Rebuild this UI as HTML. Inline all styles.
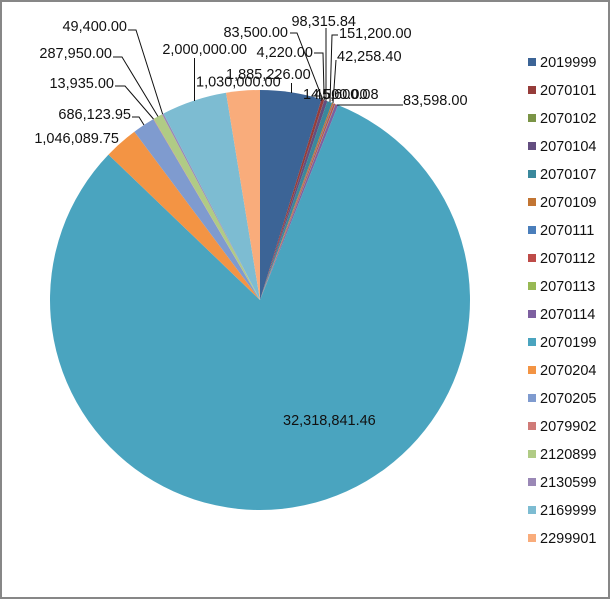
<!DOCTYPE html>
<html>
<head>
<meta charset="utf-8">
<style>
html,body{margin:0;padding:0;background:#fff;}
svg{display:block;}
text{font-family:"Liberation Sans",Arial,sans-serif;font-size:14.5px;fill:#111;}
</style>
</head>
<body>
<svg width="611" height="600" viewBox="0 0 611 600" xmlns="http://www.w3.org/2000/svg">
<rect x="0" y="0" width="611" height="600" fill="#fff"/>
<rect x="1" y="1" width="608" height="597" fill="none" stroke="#878787" stroke-width="2"/>

<!-- pie slices -->
<g>
<path d="M260,300 L260,90 A210,210 0 0 1 321.50,99.21 Z" fill="#3C6496"/>
<path d="M260,300 L321.50,99.21 A210,210 0 0 1 324.17,100.04 Z" fill="#963C3A"/>
<path d="M260,300 L324.17,100.04 A210,210 0 0 1 324.27,100.08 Z" fill="#7A9446"/>
<path d="M260,300 L324.27,100.08 A210,210 0 0 1 327.37,101.10 Z" fill="#634E80"/>
<path d="M260,300 L327.37,101.10 A210,210 0 0 1 332.10,102.77 Z" fill="#3A889C"/>
<path d="M260,300 L332.10,102.77 A210,210 0 0 1 333.41,103.24 Z" fill="#C27533"/>
<path d="M260,300 L333.41,103.24 A210,210 0 0 1 333.86,103.40 Z" fill="#4A7EBB"/>
<path d="M260,300 L333.86,103.40 A210,210 0 0 1 335.26,103.95 Z" fill="#BE4B48"/>
<path d="M260,300 L335.26,103.95 A210,210 0 0 1 335.57,104.07 Z" fill="#98B954"/>
<path d="M260,300 L335.57,104.07 A210,210 0 0 1 338.16,105.09 Z" fill="#7D60A0"/>
<path d="M260,300 L338.16,105.09 A210,210 0 1 1 108.46,154.62 Z" fill="#4AA4BF"/>
<path d="M260,300 L108.46,154.62 A210,210 0 0 1 134.38,131.71 Z" fill="#F39444"/>
<path d="M260,300 L134.38,131.71 A210,210 0 0 1 153.29,119.12 Z" fill="#7F9BCF"/>
<path d="M260,300 L153.29,119.12 A210,210 0 0 1 153.67,118.90 Z" fill="#D07B78"/>
<path d="M260,300 L153.67,118.90 A210,210 0 0 1 161.99,114.27 Z" fill="#B0CB85"/>
<path d="M260,300 L161.99,114.27 A210,210 0 0 1 163.45,113.50 Z" fill="#9A88B6"/>
<path d="M260,300 L163.45,113.50 A210,210 0 0 1 226.06,92.76 Z" fill="#7DBCD2"/>
<path d="M260,300 L226.06,92.76 A210,210 0 0 1 260,90 Z" fill="#F9AC7B"/>
</g>

<!-- leader lines -->
<g fill="none" stroke="#111" stroke-width="1">
<polyline points="128,30 136,30 162.6,114"/>
<polyline points="113,57 122,57 158,116.5"/>
<polyline points="115,86 125,86 153.5,119"/>
<polyline points="132,117 139,117 144,125"/>
<polyline points="194.5,58 194.5,101"/>
<polyline points="291.5,83 291.5,93"/>
<polyline points="290,33 297,33 322.8,99.6"/>
<polyline points="314,53 323,53 324.2,100"/>
<polyline points="326,28 326,100.6"/>
<polyline points="338,35 332,35 330,102"/>
<polyline points="336,60 333,103"/>
<polyline points="403,105 337,105"/>
</g>

<!-- data labels -->
<g>
<text x="127" y="31" text-anchor="end">49,400.00</text>
<text x="112" y="58" text-anchor="end">287,950.00</text>
<text x="114" y="88" text-anchor="end">13,935.00</text>
<text x="131" y="119" text-anchor="end">686,123.95</text>
<text x="119" y="143" text-anchor="end">1,046,089.75</text>
<text x="247" y="54" text-anchor="end">2,000,000.00</text>
<text x="196" y="86.5">1,030,000.00</text>
<text x="226" y="79">1,885,226.00</text>
<text x="288" y="37" text-anchor="end">83,500.00</text>
<text x="313" y="57" text-anchor="end">4,220.00</text>
<text x="356" y="26" text-anchor="end">98,315.84</text>
<text x="339" y="38">151,200.00</text>
<text x="337" y="61">42,258.40</text>
<text x="403" y="105">83,598.00</text>
<text x="303" y="99">14,500.00</text>
<text x="314" y="99">45,600.08</text>
<text x="283" y="425">32,318,841.46</text>
</g>

<!-- legend -->
<g>
<rect x="528" y="58" width="8" height="8" fill="#3C6496"/><text x="540" y="67">2019999</text>
<rect x="528" y="86" width="8" height="8" fill="#963C3A"/><text x="540" y="95">2070101</text>
<rect x="528" y="114" width="8" height="8" fill="#7A9446"/><text x="540" y="123">2070102</text>
<rect x="528" y="142" width="8" height="8" fill="#634E80"/><text x="540" y="151">2070104</text>
<rect x="528" y="170" width="8" height="8" fill="#3A889C"/><text x="540" y="179">2070107</text>
<rect x="528" y="198" width="8" height="8" fill="#C27533"/><text x="540" y="207">2070109</text>
<rect x="528" y="226" width="8" height="8" fill="#4A7EBB"/><text x="540" y="235">2070111</text>
<rect x="528" y="254" width="8" height="8" fill="#BE4B48"/><text x="540" y="263">2070112</text>
<rect x="528" y="282" width="8" height="8" fill="#98B954"/><text x="540" y="291">2070113</text>
<rect x="528" y="310" width="8" height="8" fill="#7D60A0"/><text x="540" y="319">2070114</text>
<rect x="528" y="338" width="8" height="8" fill="#4AA4BF"/><text x="540" y="347">2070199</text>
<rect x="528" y="366" width="8" height="8" fill="#F39444"/><text x="540" y="375">2070204</text>
<rect x="528" y="394" width="8" height="8" fill="#7F9BCF"/><text x="540" y="403">2070205</text>
<rect x="528" y="422" width="8" height="8" fill="#D07B78"/><text x="540" y="431">2079902</text>
<rect x="528" y="450" width="8" height="8" fill="#B0CB85"/><text x="540" y="459">2120899</text>
<rect x="528" y="478" width="8" height="8" fill="#9A88B6"/><text x="540" y="487">2130599</text>
<rect x="528" y="506" width="8" height="8" fill="#7DBCD2"/><text x="540" y="515">2169999</text>
<rect x="528" y="534" width="8" height="8" fill="#F9AC7B"/><text x="540" y="543">2299901</text>
</g>
</svg>
</body>
</html>
